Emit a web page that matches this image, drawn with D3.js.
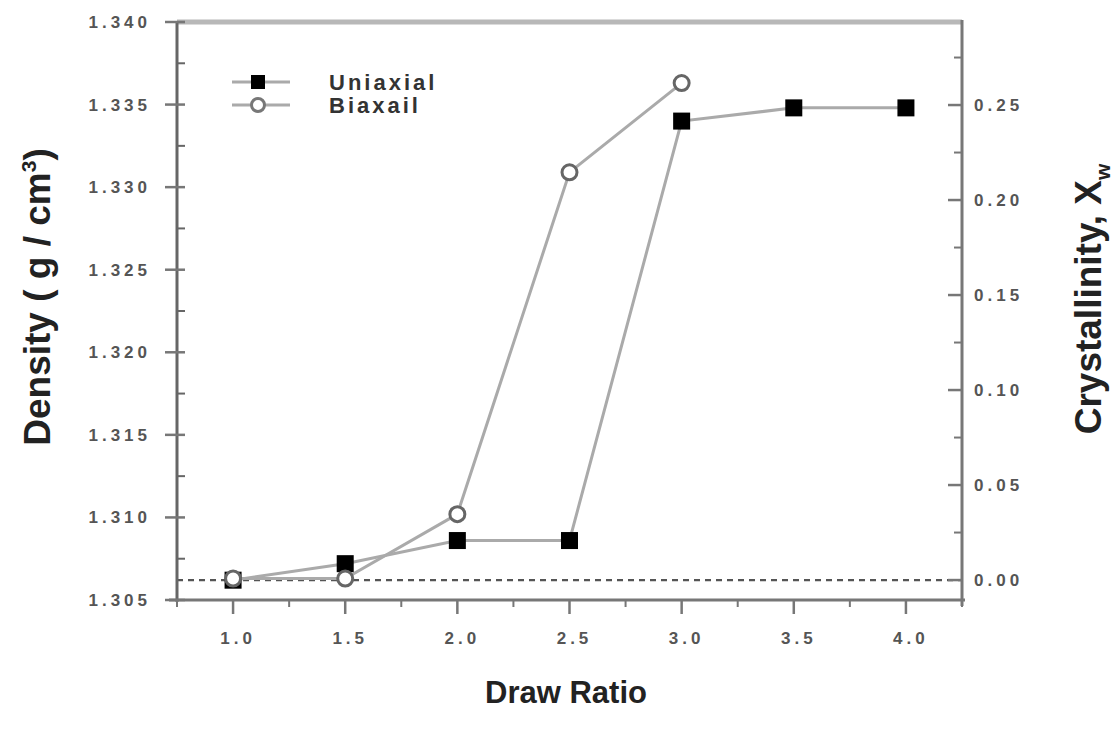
<!DOCTYPE html>
<html><head><meta charset="utf-8">
<script src="https://cdn.jsdelivr.net/npm/d3@7"></script>
<style>
body{margin:0;background:#fff;}
text{font-family:"Liberation Sans",Arial,sans-serif;}
</style></head>
<body><svg id="c" width="1116" height="734"></svg>
<script>
// ---- data ----
const drawRatio = [1.0, 1.5, 2.0, 2.5, 3.0, 3.5, 4.0];
const uniaxialDensity = [1.3062, 1.3072, 1.3086, 1.3086, 1.3340, 1.3348, 1.3348];
const biaxialRatio = [1.0, 1.5, 2.0, 2.5, 3.0];
const biaxialDensity = [1.3063, 1.3063, 1.3102, 1.3309, 1.3363];
const xTicks = [1.0, 1.5, 2.0, 2.5, 3.0, 3.5, 4.0];
const leftTicks = [1.305, 1.310, 1.315, 1.320, 1.325, 1.330, 1.335, 1.340];
const rightTicks = [0.00, 0.05, 0.10, 0.15, 0.20, 0.25];
const seriesNames = ["Uniaxial", "Biaxail"];

const svg = d3.select("#c");
const L = 177, R = 962, T = 22, B = 600;
const x = d3.scaleLinear().domain([0.75, 4.25]).range([L, R]);
const y = d3.scaleLinear().domain([1.305, 1.340]).range([B, T]);
const y2 = d3.scaleLinear().domain([-0.0105, 0.2937]).range([B, T]);

const lab = {fill:"#555", "font-weight":"bold", "font-size":"17px", "letter-spacing":"4px"};
function sty(sel, o){ for (const k in o) sel.attr(k, o[k]); return sel; }

// top frame
svg.append("line").attr("x1", L).attr("x2", R).attr("y1", T).attr("y2", T)
  .attr("stroke", "#b8b8b8").attr("stroke-width", 5);

// dashed zero crystallinity line
svg.append("line").attr("x1", L).attr("x2", R).attr("y1", y2(0)).attr("y2", y2(0))
  .attr("stroke", "#555").attr("stroke-width", 2.2).attr("stroke-dasharray", "6,5");

// left axis
const gl = svg.append("g");
gl.append("line").attr("x1", L).attr("x2", L).attr("y1", T).attr("y2", B + 2).attr("stroke", "#666").attr("stroke-width", 3);
const leftMinor = d3.range(1.3075, 1.340, 0.005);
gl.selectAll(".lm").data(leftMinor).join("line").attr("x1", L).attr("x2", L + 8)
  .attr("y1", d => y(d)).attr("y2", d => y(d)).attr("stroke", "#666").attr("stroke-width", 2);
gl.selectAll(".lt").data(leftTicks).join("line").attr("x1", L - 12).attr("x2", L + 8)
  .attr("y1", d => y(d)).attr("y2", d => y(d)).attr("stroke", "#777").attr("stroke-width", 2.5);
sty(gl.selectAll(".ll").data(leftTicks).join("text").attr("x", 151).attr("y", d => y(d) + 6)
  .attr("text-anchor", "end").text(d3.format(".3f")), lab);

// right axis
const gr = svg.append("g");
gr.append("line").attr("x1", R).attr("x2", R).attr("y1", T - 2).attr("y2", B + 6).attr("stroke", "#777").attr("stroke-width", 3);
const rightMinor = d3.range(0.025, 0.29, 0.05);
gr.selectAll(".rm").data(rightMinor).join("line").attr("x1", R - 8).attr("x2", R)
  .attr("y1", d => y2(d)).attr("y2", d => y2(d)).attr("stroke", "#777").attr("stroke-width", 2);
gr.selectAll(".rt").data(rightTicks).join("line").attr("x1", R - 14).attr("x2", R)
  .attr("y1", d => y2(d)).attr("y2", d => y2(d)).attr("stroke", "#777").attr("stroke-width", 2.5);
sty(gr.selectAll(".rl").data(rightTicks).join("text").attr("x", R + 12).attr("y", d => y2(d) + 6)
  .text(d3.format(".2f")), lab);

// bottom axis
const gb = svg.append("g");
gb.append("line").attr("x1", L - 8).attr("x2", R + 3).attr("y1", B).attr("y2", B).attr("stroke", "#777").attr("stroke-width", 3);
const xMinor = d3.range(0.75, 4.3, 0.5);
gb.selectAll(".bm").data(xMinor).join("line").attr("x1", d => x(d)).attr("x2", d => x(d))
  .attr("y1", B).attr("y2", B + 7).attr("stroke", "#777").attr("stroke-width", 2);
gb.selectAll(".bt").data(xTicks).join("line").attr("x1", d => x(d)).attr("x2", d => x(d))
  .attr("y1", B).attr("y2", B + 14).attr("stroke", "#777").attr("stroke-width", 2.5);
sty(gb.selectAll(".bl").data(xTicks).join("text").attr("x", d => x(d) + 5).attr("y", B + 44)
  .attr("text-anchor", "middle").text(d3.format(".1f")), lab);

// series lines
const line = d3.line();
svg.append("path").attr("d", line(biaxialRatio.map((d, i) => [x(d), y(biaxialDensity[i])])))
  .attr("fill", "none").attr("stroke", "#aaa").attr("stroke-width", 3);
svg.append("path").attr("d", line(drawRatio.map((d, i) => [x(d), y(uniaxialDensity[i])])))
  .attr("fill", "none").attr("stroke", "#aaa").attr("stroke-width", 3);

// markers
const ms = 17;
svg.selectAll(".sq").data(drawRatio).join("rect")
  .attr("x", d => x(d) - ms / 2).attr("y", (d, i) => y(uniaxialDensity[i]) - ms / 2)
  .attr("width", ms).attr("height", ms).attr("fill", "#000");
svg.selectAll(".ci").data(biaxialRatio).join("circle")
  .attr("cx", d => x(d)).attr("cy", (d, i) => y(biaxialDensity[i])).attr("r", 7.5)
  .attr("fill", "#fff").attr("stroke", "#666").attr("stroke-width", 3);

// legend
const lg = svg.append("g");
[0, 1].forEach(i => {
  const ly = 82 + i * 23;
  lg.append("line").attr("x1", 232).attr("x2", 290).attr("y1", ly).attr("y2", ly).attr("stroke", "#aaa").attr("stroke-width", 3);
  if (i === 0) lg.append("rect").attr("x", 258 - 7).attr("y", ly - 7).attr("width", 14).attr("height", 14).attr("fill", "#000");
  else lg.append("circle").attr("cx", 258).attr("cy", ly).attr("r", 6.5).attr("fill", "#fff").attr("stroke", "#777").attr("stroke-width", 3);
  lg.append("text").attr("x", 329).attr("y", ly + 8).attr("font-size", "22px").attr("font-weight", "bold")
    .attr("letter-spacing", "3px").attr("fill", "#333").text(seriesNames[i]);
});

// axis titles
svg.append("text").attr("transform", "translate(50,297) rotate(-90)").attr("text-anchor", "middle")
  .attr("font-size", "37px").attr("font-weight", "bold").attr("fill", "#222")
  .html('Density ( g / cm<tspan dy="-14" font-size="21px">3</tspan><tspan dy="14">)</tspan>');
svg.append("text").attr("transform", "translate(1101,299) rotate(-90)").attr("text-anchor", "middle")
  .attr("font-size", "37px").attr("font-weight", "bold").attr("fill", "#222")
  .html('Crystallinity, X<tspan dy="9" font-size="21px">w</tspan>');
svg.append("text").attr("x", 566).attr("y", 703).attr("text-anchor", "middle")
  .attr("font-size", "31px").attr("font-weight", "bold").attr("fill", "#222").text("Draw Ratio");
</script></body></html>
